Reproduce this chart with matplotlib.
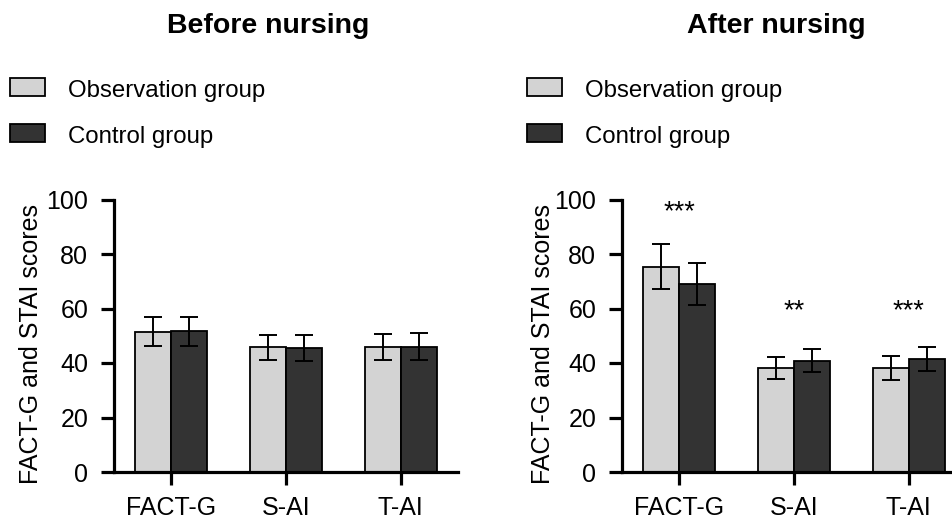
import matplotlib
matplotlib.use("Agg")
import matplotlib.pyplot as plt
import numpy as np
from matplotlib.patches import Rectangle

plt.rcParams['font.family'] = ['Liberation Sans', 'DejaVu Sans']

categories = ["FACT-G", "S-AI", "T-AI"]
series_names = ["Observation group", "Control group"]

before_obs = [51.5, 45.7, 46.0]
before_obs_err = [5.2, 4.7, 4.8]
before_ctrl = [51.7, 45.6, 46.0]
before_ctrl_err = [5.3, 4.7, 4.9]

after_obs = [75.3, 38.1, 38.2]
after_obs_err = [8.2, 4.1, 4.3]
after_ctrl = [68.9, 40.9, 41.4]
after_ctrl_err = [7.7, 4.3, 4.4]

after_stars = ["***", "**", "***"]
after_star_y = [95.5, 59, 59]

yticks = [0, 20, 40, 60, 80, 100]
ylabel = "FACT-G and STAI scores"
titles = ["Before nursing", "After nursing"]

light = "#d3d3d3"
dark = "#333333"

W, H = 953, 520
fig = plt.figure(figsize=(W / 100, H / 100), dpi=100)

def px_axes(x0, x1, y_top, y_bot):
    return fig.add_axes([x0 / W, 1 - y_bot / H, (x1 - x0) / W, (y_bot - y_top) / H])

ax1 = px_axes(114, 458, 199.5, 472)
ax2 = px_axes(622, 966, 199.5, 472)

bw = 0.315
x = np.arange(len(categories))

def draw(ax, obs, obs_err, ctrl, ctrl_err, lab_x):
    ax.bar(x - bw / 2, obs, bw, color=light, edgecolor="black", linewidth=1.3, zorder=2)
    ax.bar(x + bw / 2, ctrl, bw, color=dark, edgecolor="black", linewidth=1.3, zorder=2)
    ax.errorbar(x - bw / 2, obs, yerr=obs_err, fmt="none", ecolor="black",
                elinewidth=1.4, capsize=6.5, capthick=1.4, zorder=3)
    ax.errorbar(x + bw / 2, ctrl, yerr=ctrl_err, fmt="none", ecolor="black",
                elinewidth=1.4, capsize=6.5, capthick=1.4, zorder=3)
    ax.set_xlim(-0.5, 2.5)
    ax.set_ylim(0, 100)
    ax.set_yticks(yticks)
    ax.set_xticks(x)
    ax.set_xticklabels(categories)
    for s in ["top", "right"]:
        ax.spines[s].set_visible(False)
    for s in ["left", "bottom"]:
        ax.spines[s].set_linewidth(2.3)
    ax.tick_params(axis="both", width=2.3, length=9.5, labelsize=18, direction="out")
    ax.tick_params(axis="y", pad=9)
    ax.tick_params(axis="x", pad=8)
    ax.set_ylabel(ylabel, fontsize=18)
    ax.yaxis.set_label_coords(lab_x, 0.47)

draw(ax1, before_obs, before_obs_err, before_ctrl, before_ctrl_err, (43 - 114) / 344)
draw(ax2, after_obs, after_obs_err, after_ctrl, after_ctrl_err, (555 - 622) / 344)

for i, s in enumerate(after_stars):
    ax2.text(x[i], after_star_y[i], s, ha="center", va="center", fontsize=19.5, clip_on=False)

fig.text(268 / W, 1 - 33 / H, titles[0], ha="center", va="baseline", fontsize=20.5, fontweight="bold")
fig.text(776 / W, 1 - 33 / H, titles[1], ha="center", va="baseline", fontsize=20.5, fontweight="bold")

colors = [light, dark]
patch_top = [78, 124]
text_base = [97, 142.5]
for lx in [10, 527]:
    for name, c, pt, tb in zip(series_names, colors, patch_top, text_base):
        fig.add_artist(Rectangle((lx / W, 1 - (pt + 18) / H), 35 / W, 18 / H,
                                 facecolor=c, edgecolor="black", linewidth=1.3,
                                 transform=fig.transFigure))
        fig.text((lx + 58) / W, 1 - tb / H, name, ha="left", va="baseline", fontsize=17.3)

fig.savefig("out.png", dpi=100)
